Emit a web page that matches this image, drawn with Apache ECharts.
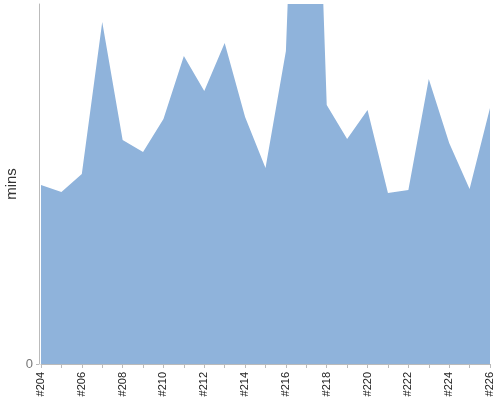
<!doctype html>
<html lang="en">
<head>
  <meta charset="UTF-8">
  <title>mins</title>
</head>
<body style="margin:0">
<div id="main" style="width: 500px;height: 400px"></div>
<script src="https://cdn.jsdelivr.net/npm/echarts@6/dist/echarts.min.js"></script>
<script>
    var builds = ['#204', '#205', '#206', '#207', '#208', '#209', '#210', '#211', '#212', '#213', '#214',
        '#215', '#216', '#217', '#218', '#219', '#220', '#221', '#222', '#223', '#224', '#225', '#226']
    var mins = [59.7, 57.3, 63.3, 114, 74.7, 70.7, 81.7, 102.7, 91, 107, 82.3,
        65.3, 104.3, 288, 86.3, 75, 84.7, 57, 58, 95, 73.7, 58.3, 85.3]

    let myCharts = echarts.init(document.querySelector('#main'))
    myCharts.setOption({
        animation: false,
        grid: {
            left: 41,
            right: 10,
            top: 4,
            bottom: 36,
            outerBoundsMode: 'none',
            containLabel: false
        },
        xAxis: {
            type: 'category',
            data: builds,
            boundaryGap: false,
            axisLine: {lineStyle: {color: '#bbb'}},
            axisTick: {interval: 0, length: 4, lineStyle: {color: '#bbb'}},
            axisLabel: {
                interval: 1,
                rotate: 90,
                fontSize: 11,
                color: '#222',
                margin: 8,
                fontFamily: 'Liberation Sans'
            }
        },
        yAxis: {
            type: 'value',
            name: 'mins',
            nameLocation: 'middle',
            nameGap: 20,
            nameMoveOverlap: false,
            nameTextStyle: {fontSize: 15, color: '#333', fontFamily: 'Liberation Sans'},
            min: 0,
            max: 120,
            interval: 120,
            offset: 2,
            axisLine: {show: true, lineStyle: {color: '#bbb'}},
            axisTick: {show: true, length: 3, lineStyle: {color: '#bbb'}},
            axisLabel: {showMaxLabel: false, fontSize: 13, color: '#777', margin: 6, fontFamily: 'Liberation Sans'},
            splitLine: {show: false}
        },
        series: [
            {
                type: 'line',
                data: mins,
                symbol: 'none',
                lineStyle: {width: 0},
                areaStyle: {color: '#8fb3db', opacity: 1}
            }
        ]
    })
</script>
</body>
</html>
